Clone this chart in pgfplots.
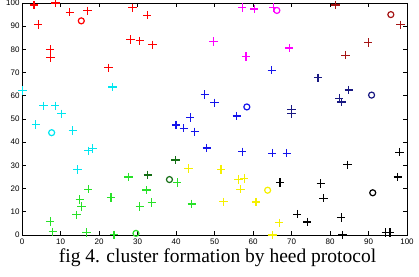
\documentclass[border=0pt]{standalone}
\usepackage{pgfplots}
\pgfplotsset{compat=1.18}
\usepackage{fontspec}
\setmainfont{Liberation Serif}
\newfontfamily\tickfont{Liberation Sans}
\definecolor{cred}{RGB}{255,0,0}
\definecolor{cdred}{RGB}{165,20,20}
\definecolor{cmag}{RGB}{255,0,255}
\definecolor{ccyan}{RGB}{0,230,240}
\definecolor{cblue}{RGB}{20,20,235}
\definecolor{cnavy}{RGB}{25,25,130}
\definecolor{cyel}{RGB}{245,240,0}
\definecolor{cgreen}{RGB}{40,225,40}
\definecolor{cdgreen}{RGB}{20,110,20}
\pgfplotsset{
  pl/.style={only marks, color=#1, mark=+, mark size=4.2pt, mark options={draw=#1, line width=1.2pt, solid}},
  hd/.style={only marks, color=#1, mark=o, mark size=3pt, mark options={draw=#1, fill=none, line width=1.2pt, solid}},
}
\begin{document}
\begin{tikzpicture}
\useasboundingbox (0,0) rectangle (419pt,276pt);
\begin{axis}[
  at={(22pt,41pt)}, anchor=south west,
  scale only axis, width=385pt, height=232pt,
  xmin=0, xmax=100, ymin=0, ymax=100,
  xtick={0,10,...,100}, ytick={0,10,...,100},
  xtick pos=both, ytick pos=both,
  xticklabel pos=lower, yticklabel pos=left,
  tick align=inside, major tick length=4pt,
  ticklabel style={font=\tickfont\fontsize{8}{9}\selectfont},
  yticklabel style={xshift=1pt},
  /pgf/number format/assume math mode=true,
  axis line style={line width=0.9pt},
  every tick/.style={black, line width=0.7pt},
  clip=false,
]
% red
\addplot[pl=cred] coordinates {(3.1,99.1)(8.7,100)(4.2,90.7)(12.4,96)(17,96.6)(7.3,80)(7.4,76.5)(22.5,72.1)(28.7,97.9)(32.5,94.7)(28.2,84.3)(30.6,83.7)(33.9,82)};
\addplot[hd=cred] coordinates {(15.4,92.3)};
% cyan
\addplot[pl=ccyan] coordinates {(0.1,62.2)(23.5,63.8)(5.6,55.7)(8.6,55.7)(10.3,52.2)(3.6,47.6)(13.2,45.1)(17.2,36.3)(18.4,37.2)(14.4,28.3)};
\addplot[hd=ccyan] coordinates {(7.7,44.1)};
% light green
\addplot[pl=cgreen] coordinates {(27.7,25)(17.2,19.7)(32.3,19.4)(40.3,22.7)(23.1,16.2)(15,15.3)(15.5,12.2)(30.6,12.2)(33.7,14)(44.1,13.4)(14.2,8.7)(7.3,5.9)(8,1.4)(16.8,1)(23.9,0.1)};
\addplot[hd=cgreen] coordinates {(29.6,0.7)};
% dark green
\addplot[pl=cdgreen] coordinates {(32.7,25.9)(39.9,32.3)};
\addplot[hd=cdgreen] coordinates {(38.3,23.9)};
% yellow
\addplot[pl=cyel] coordinates {(43.2,28.6)(51.7,28.3)(56.2,23.9)(57.7,24.3)(56.8,19.7)(52.3,14.3)(60.8,14.2)(66.8,5.3)(65.1,0)};
\addplot[hd=cyel] coordinates {(63.8,19.3)};
% black
\addplot[pl=black] coordinates {(67,22.6)(77.6,22.2)(78.3,15.9)(71.5,9)(74.1,5.6)(82.9,7.5)(83.2,0)(84.5,30.3)(98,35.7)(97.6,25)(94.5,1.1)(95.6,1.1)};
\addplot[hd=black] coordinates {(91.1,18.2)};
% blue
\addplot[pl=cblue] coordinates {(40,47.4)(42,46)(44.9,44.5)(43.7,50.6)(47.5,60.6)(50,57)(55.8,51.3)(48,37.5)(57.2,35.9)(65,35.3)(68.8,35.3)(64.9,71)};
\addplot[hd=cblue] coordinates {(58.4,55.2)};
% navy
\addplot[pl=cnavy] coordinates {(76.9,67.8)(70,54.2)(70,52.2)(82.4,59)(83,57.3)(84.9,62.5)};
\addplot[hd=cnavy] coordinates {(90.8,60.3)};
% magenta
\addplot[pl=cmag] coordinates {(57.2,98.1)(60.3,97.4)(65.3,98.1)(49.7,83.4)(58.2,76.9)(69.4,80.6)};
\addplot[hd=cmag] coordinates {(66.2,96.8)};
% dark red
\addplot[pl=cdred] coordinates {(81.4,99.1)(98.3,90.6)(89.9,83)(84,77.5)};
\addplot[hd=cdred] coordinates {(95.8,95)};
\end{axis}
\node[font=\fontsize{19.5}{22}\selectfont] at (217.5pt,18pt) {fig 4. cluster formation by heed protocol};
\end{tikzpicture}
\end{document}
